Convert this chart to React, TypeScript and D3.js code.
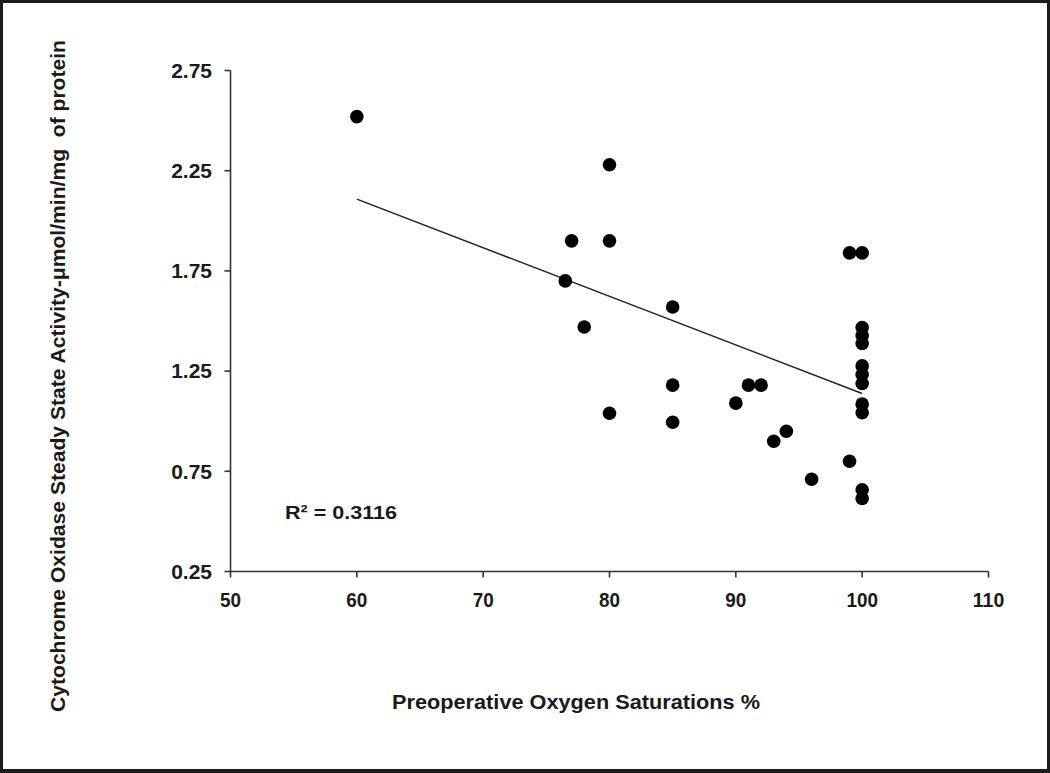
import React from "react";
import * as d3 from "d3";

const oxygenSat: number[] = [
  60, 76.5, 77, 78, 80, 80, 80, 85, 85, 85, 90, 91, 92, 93, 94, 96, 99, 99,
  100, 100, 100, 100, 100, 100, 100, 100, 100, 100, 100,
];
const coxActivity: number[] = [
  2.52, 1.70, 1.90, 1.47, 2.28, 1.90, 1.04, 1.57, 1.18, 0.995, 1.09, 1.18, 1.18, 0.90, 0.95, 0.71, 1.84, 0.80,
  1.84, 1.467, 1.427, 1.388, 1.276, 1.233, 1.188, 1.085, 1.042, 0.658, 0.614,
];
const trendX: number[] = [60, 100];
const trendY: number[] = [2.108, 1.138];
const xTicks: number[] = [50, 60, 70, 80, 90, 100, 110];
const yTicks: number[] = [0.25, 0.75, 1.25, 1.75, 2.25, 2.75];
const rSquaredLabel = "R² = 0.3116";
const xTitle = "Preoperative Oxygen Saturations %";
const yTitle = "Cytochrome Oxidase Steady State Activity-μmol/min/mg  of protein";

const W = 1050;
const H = 773;
const FONT = "'Liberation Sans', Arial, sans-serif";

export default function App() {
  const x = d3.scaleLinear().domain([50, 110]).range([230.5, 988.5]);
  const y = d3.scaleLinear().domain([0.25, 2.75]).range([571.5, 70.5]);
  const line = d3
    .line<number>()
    .x((_, i) => x(trendX[i]))
    .y((d) => y(d));

  return (
    <svg
      width={W}
      height={H}
      style={{ position: "absolute", left: 0, top: 0, display: "block" }}
    >
      <rect x={0} y={0} width={W} height={H} fill="#1c1c1c" />
      <rect x={3} y={3} width={W - 6} height={H - 7} fill="#ffffff" />

      {/* axes */}
      <line x1={x(50)} x2={x(50)} y1={y(2.75)} y2={y(0.25)} stroke="#333" strokeWidth={1.6} />
      <line x1={x(50)} x2={x(110)} y1={y(0.25)} y2={y(0.25)} stroke="#333" strokeWidth={1.6} />
      {yTicks.map((t) => (
        <g key={"y" + t}>
          <line x1={x(50) - 6} x2={x(50)} y1={y(t)} y2={y(t)} stroke="#333" strokeWidth={1.6} />
          <text
            x={212}
            y={y(t)}
            dy="0.35em"
            textAnchor="end"
            fontFamily={FONT}
            fontWeight="bold"
            fontSize={21}
            fill="#1a1a1a"
          >
            {t.toFixed(2)}
          </text>
        </g>
      ))}
      {xTicks.map((t) => (
        <g key={"x" + t}>
          <line x1={x(t)} x2={x(t)} y1={y(0.25)} y2={y(0.25) + 6} stroke="#333" strokeWidth={1.6} />
          <text
            x={x(t)}
            y={y(0.25) + 28}
            dy="0.35em"
            textAnchor="middle"
            fontFamily={FONT}
            fontWeight="bold"
            fontSize={21}
            fill="#1a1a1a"
            textLength={String(t).length * 10.5}
            lengthAdjust="spacingAndGlyphs"
          >
            {t}
          </text>
        </g>
      ))}

      {/* trendline */}
      <path d={line(trendY) || ""} fill="none" stroke="#222" strokeWidth={1.5} />

      {/* points */}
      {oxygenSat.map((v, i) => (
        <circle key={i} cx={x(v)} cy={y(coxActivity[i])} r={6.8} fill="#000" />
      ))}

      <text
        x={285}
        y={512}
        dy="0.35em"
        fontFamily={FONT}
        fontWeight="bold"
        fontSize={19}
        fill="#1a1a1a"
        textLength={112}
        lengthAdjust="spacingAndGlyphs"
      >
        {rSquaredLabel}
      </text>

      <text
        x={576}
        y={702}
        dy="0.35em"
        textAnchor="middle"
        fontFamily={FONT}
        fontWeight="bold"
        fontSize={20.5}
        fill="#1a1a1a"
        textLength={368}
        lengthAdjust="spacingAndGlyphs"
      >
        {xTitle}
      </text>

      <text
        transform={`translate(58, 376) rotate(-90)`}
        dy="0.35em"
        textAnchor="middle"
        fontFamily={FONT}
        fontWeight="bold"
        fontSize={20}
        fill="#1a1a1a"
        textLength={672}
        lengthAdjust="spacingAndGlyphs"
        style={{ whiteSpace: "pre" }}
      >
        {yTitle}
      </text>
    </svg>
  );
}
